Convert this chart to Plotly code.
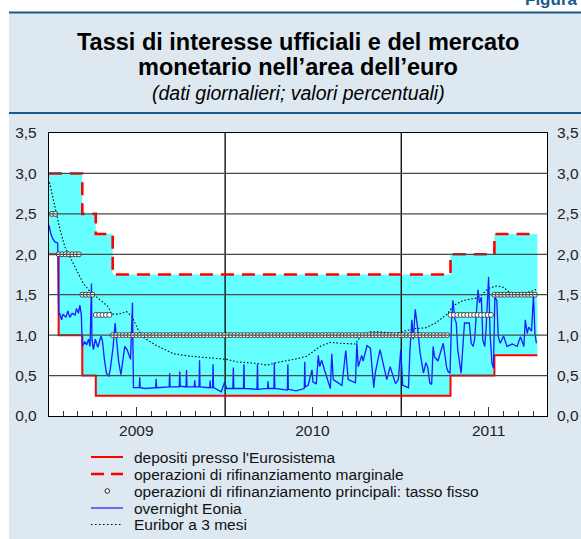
import plotly.graph_objects as go
import pandas as pd

# ---------------- data ----------------
# official ECB rates: date of change and rate in effect from that date
rate_dates = ["2009-01-01", "2009-01-21", "2009-03-11", "2009-04-08", "2009-05-13",
              "2011-04-13", "2011-07-13", "2011-10-10"]
depo_rate = [2.00, 1.00, 0.50, 0.25, 0.25, 0.50, 0.75, 0.75]
mlf_rate = [3.00, 3.00, 2.50, 2.25, 1.75, 2.00, 2.25, 2.25]
mro_rate = [2.50, 2.00, 1.50, 1.25, 1.00, 1.25, 1.50, 1.50]

# weekly main refinancing operations
mro_dates = pd.date_range("2009-01-07", "2011-10-05", freq="7D")

# overnight Eonia
eonia_dates = [
    "2009-01-01", "2009-01-05", "2009-01-09", "2009-01-14", "2009-01-19", "2009-01-21", "2009-01-23",
    "2009-01-27", "2009-01-30", "2009-02-05", "2009-02-09", "2009-02-13", "2009-02-18", "2009-02-24",
    "2009-02-27", "2009-03-03", "2009-03-06", "2009-03-09", "2009-03-11", "2009-03-16", "2009-03-20",
    "2009-03-24", "2009-03-27", "2009-03-30", "2009-03-31", "2009-04-03", "2009-04-07", "2009-04-12",
    "2009-04-19", "2009-04-22", "2009-04-26", "2009-04-30", "2009-05-05", "2009-05-08", "2009-05-14",
    "2009-05-18", "2009-05-21", "2009-05-25", "2009-05-30", "2009-06-03", "2009-06-07", "2009-06-12",
    "2009-06-19", "2009-06-23", "2009-06-25", "2009-07-07", "2009-07-08", "2009-07-09", "2009-07-20",
    "2009-08-10", "2009-08-11", "2009-08-12", "2009-09-07", "2009-09-08", "2009-09-09", "2009-09-28",
    "2009-09-29", "2009-09-30", "2009-10-12", "2009-10-13", "2009-10-14", "2009-10-29", "2009-10-30",
    "2009-10-31", "2009-11-08", "2009-11-09", "2009-11-10", "2009-11-30", "2009-12-01", "2009-12-02",
    "2009-12-06", "2009-12-07", "2009-12-08", "2009-12-24", "2009-12-31", "2010-01-04", "2010-01-17",
    "2010-01-18", "2010-01-19", "2010-02-08", "2010-02-09", "2010-02-10", "2010-03-08", "2010-03-09",
    "2010-03-10", "2010-03-30", "2010-03-31", "2010-04-01", "2010-04-12", "2010-04-13", "2010-04-14",
    "2010-05-10", "2010-05-11", "2010-05-12", "2010-05-28", "2010-06-14", "2010-06-15", "2010-06-16",
    "2010-06-22", "2010-06-30", "2010-07-02", "2010-07-09", "2010-07-13", "2010-07-16", "2010-07-20",
    "2010-07-27", "2010-08-07", "2010-08-10", "2010-08-13", "2010-08-31", "2010-09-08", "2010-09-13",
    "2010-09-28", "2010-10-01", "2010-10-04", "2010-10-11", "2010-10-14", "2010-10-22", "2010-10-29",
    "2010-11-05", "2010-11-08", "2010-11-18", "2010-11-29", "2010-12-02", "2010-12-09", "2010-12-20",
    "2010-12-26", "2010-12-31", "2011-01-04", "2011-01-16", "2011-01-19", "2011-01-23", "2011-01-26",
    "2011-01-30", "2011-02-04", "2011-02-09", "2011-02-16", "2011-02-21", "2011-02-25", "2011-03-01",
    "2011-03-05", "2011-03-08", "2011-03-11", "2011-03-18", "2011-03-29", "2011-04-05", "2011-04-08",
    "2011-04-12", "2011-04-15", "2011-04-18", "2011-04-22", "2011-04-25", "2011-04-28", "2011-05-02",
    "2011-05-05", "2011-05-12", "2011-05-22", "2011-05-26", "2011-05-30", "2011-06-02", "2011-06-09",
    "2011-06-12", "2011-06-16", "2011-06-19", "2011-06-23", "2011-06-26", "2011-07-01", "2011-07-04",
    "2011-07-08", "2011-07-11", "2011-07-14", "2011-07-18", "2011-07-21", "2011-07-25", "2011-08-01",
    "2011-08-08", "2011-08-19", "2011-08-29", "2011-09-05", "2011-09-12", "2011-09-15", "2011-09-19",
    "2011-09-22", "2011-09-28", "2011-10-02", "2011-10-05", "2011-10-08"]
eonia_values = [
    2.36, 2.25, 2.19, 2.15, 2.14, 1.25, 1.27,
    1.19, 1.26, 1.22, 1.30, 1.22, 1.27, 1.25,
    1.33, 1.27, 1.37, 1.25, 0.86, 0.92, 0.88,
    0.95, 0.86, 1.64, 0.95, 0.82, 0.95, 0.85,
    0.99, 0.92, 0.69, 0.53, 0.49, 0.58, 0.86,
    1.15, 0.95, 0.69, 0.51, 0.69, 0.86, 0.82,
    0.70, 1.40, 0.35, 0.35, 0.48, 0.35, 0.34,
    0.35, 0.46, 0.35, 0.36, 0.53, 0.36, 0.36,
    0.55, 0.37, 0.36, 0.57, 0.36, 0.36, 0.44,
    0.36, 0.36, 0.69, 0.36, 0.35, 0.44, 0.35,
    0.35, 0.64, 0.35, 0.30, 0.42, 0.34, 0.34,
    0.60, 0.34, 0.34, 0.64, 0.34, 0.33, 0.64,
    0.33, 0.34, 0.43, 0.34, 0.34, 0.66, 0.34,
    0.32, 0.64, 0.33, 0.31, 0.34, 0.67, 0.36,
    0.38, 0.57, 0.42, 0.40, 0.75, 0.61, 0.69,
    0.55, 0.34, 0.77, 0.45, 0.38, 0.81, 0.45,
    0.41, 0.90, 0.61, 0.75, 0.68, 0.87, 0.84,
    0.35, 0.53, 0.82, 0.53, 0.45, 0.61, 0.40,
    0.45, 0.82, 0.38, 0.35, 0.81, 1.19, 0.95,
    1.32, 1.08, 0.78, 0.53, 0.66, 0.60, 0.41,
    0.39, 0.86, 0.73, 0.68, 0.90, 0.60, 0.55,
    0.53, 1.15, 1.43, 1.20, 1.15, 0.82, 0.61,
    0.53, 1.15, 1.15, 0.90, 0.86, 0.95, 1.56,
    1.40, 1.47, 0.94, 0.86, 1.10, 1.72, 1.02,
    0.65, 0.59, 1.47, 1.43, 0.98, 0.90, 0.99,
    0.86, 0.89, 0.86, 0.98, 0.86, 1.19, 1.02,
    1.10, 1.05, 1.50, 1.02, 0.90]

# Euribor a 3 mesi
euribor_dates = [
    "2009-01-02", "2009-01-10", "2009-01-17", "2009-01-24", "2009-02-03", "2009-02-17", "2009-02-27",
    "2009-03-13", "2009-03-27", "2009-04-13", "2009-05-04", "2009-05-11", "2009-05-25", "2009-06-11",
    "2009-06-22", "2009-07-05", "2009-07-19", "2009-08-09", "2009-08-30", "2009-09-16", "2009-10-20",
    "2009-12-01", "2010-01-05", "2010-01-25", "2010-03-08", "2010-03-29", "2010-04-25", "2010-06-01",
    "2010-06-19", "2010-07-17", "2010-08-07", "2010-08-28", "2010-09-28", "2010-10-08", "2010-10-29",
    "2010-11-18", "2010-12-20", "2011-01-26", "2011-02-20", "2011-03-13", "2011-04-06", "2011-04-20",
    "2011-05-10", "2011-06-07", "2011-06-17", "2011-07-01", "2011-07-19", "2011-08-01", "2011-08-15",
    "2011-09-05", "2011-09-19", "2011-10-02", "2011-10-09"]
euribor_values = [
    2.89, 2.67, 2.50, 2.30, 2.09, 1.93, 1.80,
    1.64, 1.54, 1.45, 1.35, 1.26, 1.26, 1.29,
    1.23, 1.06, 0.96, 0.88, 0.82, 0.77, 0.74,
    0.72, 0.70, 0.67, 0.65, 0.63, 0.67, 0.71,
    0.74, 0.86, 0.91, 0.90, 0.89, 0.98, 1.04,
    1.04, 1.02, 1.08, 1.09, 1.15, 1.26, 1.37,
    1.43, 1.46, 1.50, 1.58, 1.61, 1.59, 1.52,
    1.52, 1.53, 1.55, 1.57]

y_ticks = [0.0, 0.5, 1.0, 1.5, 2.0, 2.5, 3.0, 3.5]
x_range = ["2009-01-01", "2011-10-30"]
year_bounds = ["2010-01-01", "2011-01-01"]
year_label_pos = ["2009-07-01", "2010-07-01", "2011-07-01"]
year_labels = ["2009", "2010", "2011"]

legend_labels = ["depositi presso l'Eurosistema",
                 "operazioni di rifinanziamento marginale",
                 "operazioni di rifinanziamento principali: tasso fisso",
                 "overnight Eonia",
                 "Euribor a 3 mesi"]

# ---------------- derived ----------------
rd = pd.to_datetime(rate_dates)
idx = rd.searchsorted(mro_dates, side="right") - 1
mro_values = [mro_rate[i] for i in idx]

RED = "#ff0000"
BLUE = "#1a1aff"
CYAN = "#66ffff"
BG = "#dde8f1"
NAVY = "#1b5a8a"
FONT = "Liberation Sans, Arial, sans-serif"

# plot area in pixels (for placing non-data decorations)
L, R, T, B = 49, 547, 133, 416
W, H = 581, 539


def px(v):
    return (v - L) / (R - L)


def py(v):
    return (B - v) / (B - T)


fig = go.Figure()

# band between deposit and marginal lending rates
fig.add_trace(go.Scatter(x=rate_dates, y=depo_rate, mode="lines", line=dict(width=0, shape="hv"),
                         showlegend=False, hoverinfo="skip"))
fig.add_trace(go.Scatter(x=rate_dates, y=mlf_rate, mode="lines", line=dict(width=0, shape="hv"),
                         fill="tonexty", fillcolor=CYAN, showlegend=False, hoverinfo="skip"))

# grid lines drawn above the band
hx, hy = [], []
for v in y_ticks[1:-1]:
    hx += [x_range[0], x_range[1], None]
    hy += [v, v, None]
fig.add_trace(go.Scatter(x=hx, y=hy, mode="lines", line=dict(color="#4a4a4a", width=1.2),
                         showlegend=False, hoverinfo="skip", yaxis="y2"))
vx, vy = [], []
for d in year_bounds:
    vx += [d, d, None]
    vy += [y_ticks[0], y_ticks[-1], None]
fig.add_trace(go.Scatter(x=vx, y=vy, mode="lines", line=dict(color="#000000", width=1.3),
                         showlegend=False, hoverinfo="skip"))

# official rates
fig.add_trace(go.Scatter(x=rate_dates, y=depo_rate, mode="lines", name=legend_labels[0],
                         line=dict(color=RED, width=2, shape="hv"), showlegend=False))
fig.add_trace(go.Scatter(x=rate_dates, y=mlf_rate, mode="lines", name=legend_labels[1],
                         line=dict(color=RED, width=2.6, shape="hv", dash="13px,8px"), showlegend=False))
# market rates
fig.add_trace(go.Scatter(x=euribor_dates, y=euribor_values, mode="lines", name=legend_labels[4],
                         line=dict(color="#000000", width=1.1, dash="1.5px,2px"), showlegend=False))
fig.add_trace(go.Scatter(x=eonia_dates, y=eonia_values, mode="lines", name=legend_labels[3],
                         line=dict(color=BLUE, width=1.3), showlegend=False))
# MRO fixed rate (weekly operations)
fig.add_trace(go.Scatter(x=mro_dates, y=mro_values, mode="markers", name=legend_labels[2],
                         marker=dict(size=5, color="#ffffff", line=dict(color="#222222", width=0.8)),
                         showlegend=False))

shapes = [
    # panel background
    dict(type="rect", xref="paper", yref="paper", x0=px(9), x1=px(W + 2), y0=py(12), y1=py(H + 2),
         fillcolor=BG, line=dict(width=0), layer="below"),
    # white plot area
    dict(type="rect", xref="paper", yref="paper", x0=0, x1=1, y0=0, y1=1,
         fillcolor="#ffffff", line=dict(width=0), layer="below"),
    # header rules
    dict(type="line", xref="paper", yref="paper", x0=px(9), x1=px(W + 2), y0=py(12.5), y1=py(12.5),
         line=dict(color=NAVY, width=2)),
    dict(type="line", xref="paper", yref="paper", x0=px(9), x1=px(W + 2), y0=py(113), y1=py(113),
         line=dict(color=NAVY, width=2)),
]

# manual legend
rows = [457, 474, 491, 508, 524.5]
sx0, sx1, tx = 91, 123, 132
shapes.append(dict(type="line", xref="paper", yref="paper", x0=px(sx0), x1=px(sx1),
                   y0=py(rows[0]), y1=py(rows[0]), line=dict(color=RED, width=2)))
shapes.append(dict(type="line", xref="paper", yref="paper", x0=px(sx0), x1=px(sx1),
                   y0=py(rows[1]), y1=py(rows[1]), line=dict(color=RED, width=2.6, dash="13px,7px")))
shapes.append(dict(type="circle", xref="paper", yref="paper", x0=px(105), x1=px(109.5),
                   y0=py(rows[2] - 2.25), y1=py(rows[2] + 2.25),
                   fillcolor="#ffffff", line=dict(color="#222222", width=1)))
shapes.append(dict(type="line", xref="paper", yref="paper", x0=px(sx0), x1=px(sx1),
                   y0=py(rows[3]), y1=py(rows[3]), line=dict(color="#6a6aff", width=2)))
shapes.append(dict(type="line", xref="paper", yref="paper", x0=px(sx0), x1=px(sx1),
                   y0=py(rows[4]), y1=py(rows[4]), line=dict(color="#000000", width=1.1, dash="1.5px,2.5px")))

annotations = []
for r, lab in zip(rows, legend_labels):
    annotations.append(dict(text=lab, xref="paper", yref="paper", x=px(tx), y=py(r),
                            xanchor="left", yanchor="middle", showarrow=False,
                            font=dict(size=15.5, color="#111111", family=FONT)))

# titles
annotations += [
    dict(text="<b>Tassi di interesse ufficiali e del mercato</b>", xref="paper", yref="paper",
         x=px(298), y=py(42), xanchor="center", yanchor="middle", showarrow=False,
         font=dict(size=23.5, color="#000000", family=FONT)),
    dict(text="<b>monetario nell’area dell’euro</b>", xref="paper", yref="paper",
         x=px(298), y=py(67), xanchor="center", yanchor="middle", showarrow=False,
         font=dict(size=23.5, color="#000000", family=FONT)),
    dict(text="<i>(dati giornalieri; valori percentuali)</i>", xref="paper", yref="paper",
         x=px(298), y=py(93), xanchor="center", yanchor="middle", showarrow=False,
         font=dict(size=19.5, color="#000000", family=FONT)),
    dict(text="<b>Figura</b>", xref="paper", yref="paper",
         x=px(579), y=py(-1), xanchor="right", yanchor="middle", showarrow=False,
         font=dict(size=17, color=NAVY, family=FONT)),
]

fig.update_layout(
    width=W, height=H, autosize=False,
    margin=dict(l=L, r=W - R, t=T, b=H - B, pad=0, autoexpand=False),
    paper_bgcolor="#ffffff",
    plot_bgcolor="rgba(0,0,0,0)",
    separators=",.",
    font=dict(family=FONT, size=15, color="#222222"),
    showlegend=False,
    shapes=shapes,
    annotations=annotations,
    xaxis=dict(type="date", range=x_range, showgrid=False, zeroline=False, automargin=False,
               showline=True, linecolor="#000000", linewidth=1.3, mirror=True,
               ticks="inside", ticklen=9, tickwidth=1, tickcolor="#333333",
               tickvals=year_label_pos, ticktext=year_labels,
               tickfont=dict(size=15.5, color="#222222"),
               minor=dict(ticks="inside", ticklen=5, tickwidth=1, tickcolor="#333333",
                          dtick="M1", tick0="2009-01-01", showgrid=False)),
    yaxis=dict(range=[y_ticks[0], y_ticks[-1]], tickvals=y_ticks, tickformat=".1f", automargin=False,
               showgrid=False, zeroline=False, showline=True, linecolor="#000000",
               linewidth=1.3, mirror=True, ticks="", ticklabelstandoff=8,
               tickfont=dict(size=15.5, color="#222222")),
    yaxis2=dict(range=[y_ticks[0], y_ticks[-1]], tickvals=y_ticks, tickformat=".1f", automargin=False,
                overlaying="y", side="right", showgrid=False, zeroline=False,
                showline=False, ticks="", ticklabelstandoff=9,
                tickfont=dict(size=15.5, color="#222222")),
)

fig.write_html("out.html", config={"responsive": False, "displayModeBar": False},
               post_script="document.body.style.margin='0';document.body.style.overflow='hidden';")
